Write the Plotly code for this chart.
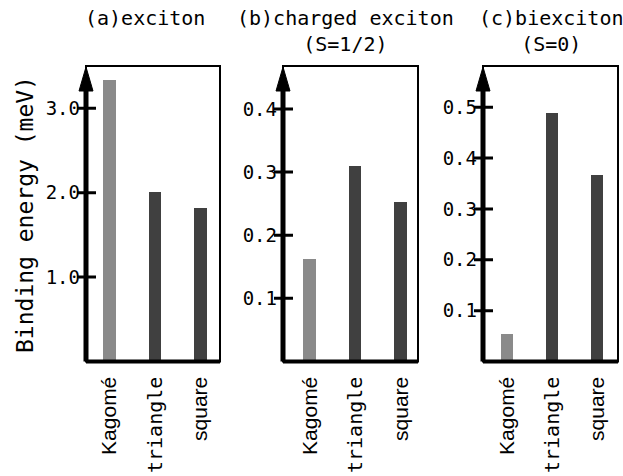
import plotly.graph_objects as go

categories = ["Kagomé", "triangle", "square"]
exciton = [3.34, 2.01, 1.82]
charged_exciton = [0.162, 0.31, 0.252]
biexciton = [0.054, 0.489, 0.367]
series = [exciton, charged_exciton, biexciton]

titles = ["(a)exciton", "(b)charged exciton<br>(S=1/2)", "(c)biexciton<br>(S=0)"]
ytitle = "Binding energy (meV)"
ticks_a = [1.0, 2.0, 3.0]
ticks_b = [0.1, 0.2, 0.3, 0.4]
ticks_c = [0.1, 0.2, 0.3, 0.4, 0.5]
tick_sets = [ticks_a, ticks_b, ticks_c]

W, H = 623, 476
bar_colors = ["#8a8a8a", "#404040", "#404040"]
mono = "DejaVu Sans Mono"

# layout geometry (pixels)
xdoms_px = [(86, 220), (283, 418), (483, 618)]
xranges = [(-0.516, 2.43), (-0.587, 2.38), (-0.531, 2.46)]
yranges = [(0, 3.5), (0, 0.468), (0, 0.581)]
ydom = [1 - 361.5 / H, 1 - 66 / H]
title_x = [145, 345, 551]


def cat_label(c):
    # "triangle" is set in the monospaced face in the original figure
    if c == "triangle":
        return '<span style="font-family:%s;font-size:20px">%s</span>' % (mono, c)
    return c


fig = go.Figure()
shapes = []
annotations = []
for i in range(3):
    sfx = "" if i == 0 else str(i + 1)
    xa, ya = "x" + sfx, "y" + sfx
    fig.add_trace(go.Bar(
        x=list(range(len(categories))), y=series[i],
        marker=dict(color=bar_colors, line=dict(width=0)),
        width=0.275, xaxis=xa, yaxis=ya, hoverinfo="skip"))
    d0, d1 = xdoms_px[i]
    fig.layout["xaxis" + sfx] = dict(
        domain=[d0 / W, d1 / W], range=list(xranges[i]), anchor=ya,
        tickmode="array", tickvals=list(range(len(categories))),
        ticktext=[cat_label(c) for c in categories],
        tickangle=-90, ticks="", showgrid=False, zeroline=False, showline=False,
        tickfont=dict(family="Liberation Sans", size=21, color="black"),
        ticklabelstandoff=10, fixedrange=True)
    fig.layout["yaxis" + sfx] = dict(
        domain=ydom, range=list(yranges[i]), anchor=xa,
        tickmode="array", tickvals=tick_sets[i], ticktext=["%.1f" % v for v in tick_sets[i]],
        ticks="", showgrid=False, zeroline=False, showline=False, ticklabelstandoff=5,
        tickfont=dict(family=mono, size=19, color="black"), fixedrange=True)
    xd, yd = xa + " domain", ya + " domain"
    # frame
    shapes.append(dict(type="rect", xref=xd, yref=yd, x0=0, x1=1, y0=0, y1=1,
                       line=dict(color="black", width=2)))
    shapes.append(dict(type="line", xref=xd, yref=yd, x0=0, x1=1, y0=0, y1=0,
                       line=dict(color="black", width=4)))
    # thick y axis with arrow
    shapes.append(dict(type="line", xref=xd, yref=yd, x0=0, x1=0, y0=0, y1=0.93,
                       line=dict(color="black", width=5)))
    shapes.append(dict(type="path", xref=xd, yref=yd, xsizemode="pixel", ysizemode="pixel",
                       xanchor=0, yanchor=1, path="M -7 -25 L 0 -1 L 7 -25 Z",
                       fillcolor="black", line=dict(color="black", width=1)))
    # ticks crossing the axis
    for v in tick_sets[i]:
        shapes.append(dict(type="line", xref=xd, yref=ya, xsizemode="pixel", xanchor=0,
                           x0=-9, x1=10, y0=v, y1=v, line=dict(color="black", width=3)))
    annotations.append(dict(text=titles[i], xref="paper", yref="paper",
                            x=title_x[i] / W, y=1 - 4 / H, xanchor="center", yanchor="top",
                            showarrow=False, align="center",
                            font=dict(family=mono, size=20, color="black")))

annotations.append(dict(text=ytitle, xref="paper", yref="paper", x=25 / W, y=1 - 215 / H,
                        xanchor="center", yanchor="middle", textangle=-90, showarrow=False,
                        font=dict(family=mono, size=23, color="black")))

fig.update_layout(width=W, height=H, margin=dict(l=0, r=0, t=0, b=0),
                  paper_bgcolor="white", plot_bgcolor="white", showlegend=False,
                  shapes=shapes, annotations=annotations, bargap=0)
fig.write_html("out.html", config={"displayModeBar": False},
               post_script="document.body.style.margin='0';document.body.style.overflow='hidden';")
